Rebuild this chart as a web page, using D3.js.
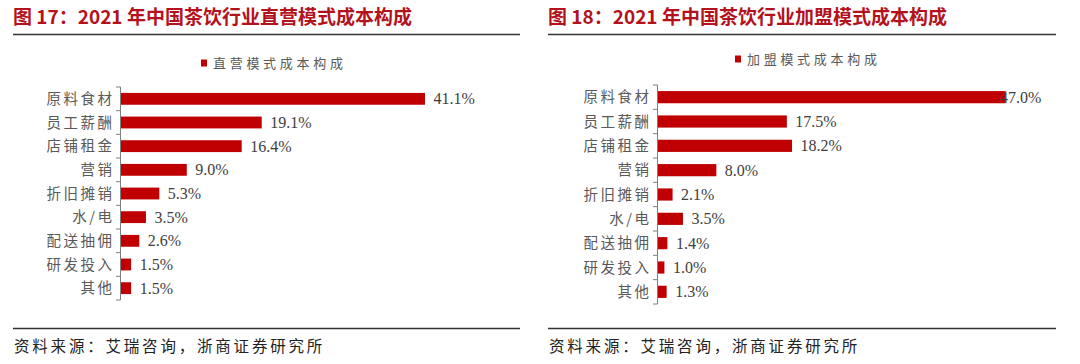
<!DOCTYPE html>
<html>
<head>
<meta charset="utf-8">
<script src="https://cdn.jsdelivr.net/npm/d3@7"></script>
<style>
  body { margin: 0; background: #fff; }
  svg { display: block; }
</style>
</head>
<body>
<svg id="chart" width="1080" height="364"></svg>
<script>
// data
var categories = ['原料食材', '员工薪酬', '店铺租金', '营销', '折旧摊销', '水/电', '配送抽佣', '研发投入', '其他'];
var directValues = [41.1, 19.1, 16.4, 9.0, 5.3, 3.5, 2.6, 1.5, 1.5];
var franchiseValues = [47.0, 17.5, 18.2, 8.0, 2.1, 3.5, 1.4, 1.0, 1.3];
var titles = ['图 17：2021 年中国茶饮行业直营模式成本构成', '图 18：2021 年中国茶饮行业加盟模式成本构成'];
var legendNames = ['直营模式成本构成', '加盟模式成本构成'];
var sourceText = '资料来源：艾瑞咨询，浙商证券研究所';

var barColor = '#C00000';
var titleColor = '#B3121D';
var cjk = '"Noto Sans CJK SC", sans-serif';
var serif = '"Liberation Serif", "Times New Roman", serif';

var svg = d3.select('#chart');

// panel layout (left: direct-operated, right: franchise)
var panels = [
  { x0: 13, ruleEnd: 520, axisX: 120, top: 87, bottom: 300, legendX: 201, legendY: 63, maxLabel: 400, values: directValues },
  { x0: 548, ruleEnd: 1056, axisX: 657, top: 85, bottom: 304, legendX: 735, legendY: 59, maxLabel: 343, values: franchiseValues }
];

panels.forEach(function (p, idx) {
  var g = svg.append('g');

  // title + rules
  g.append('text')
    .attr('x', p.x0)
    .attr('y', 24)
    .attr('font-family', '"Noto Sans CJK SC", Arial, sans-serif')
    .attr('font-weight', 'bold')
    .attr('font-size', 19)
    .attr('fill', titleColor)
    .text(titles[idx]);

  g.append('line')
    .attr('x1', p.x0).attr('x2', p.ruleEnd)
    .attr('y1', 34.5).attr('y2', 34.5)
    .attr('stroke', '#333').attr('stroke-width', 1.3);

  g.append('line')
    .attr('x1', p.x0).attr('x2', p.ruleEnd)
    .attr('y1', 328.5).attr('y2', 328.5)
    .attr('stroke', '#333').attr('stroke-width', 1.3);

  g.append('text')
    .attr('x', p.x0 + 1)
    .attr('y', 347)
    .attr('dy', '0.35em')
    .attr('font-family', cjk)
    .attr('font-size', 15.5)
    .attr('letter-spacing', 2.8)
    .attr('fill', '#222')
    .text(sourceText);

  // legend
  g.append('rect')
    .attr('x', p.legendX).attr('y', p.legendY - 3.5)
    .attr('width', 6).attr('height', 7)
    .attr('fill', barColor);

  g.append('text')
    .attr('x', p.legendX + 12)
    .attr('y', p.legendY)
    .attr('dy', '0.35em')
    .attr('font-family', cjk)
    .attr('font-size', 13)
    .attr('letter-spacing', 3.7)
    .attr('fill', '#595959')
    .text(legendNames[idx]);

  // scales
  var x = d3.scaleLinear().domain([0, 50]).range([0, 371]);
  var y = d3.scaleBand()
    .domain(categories)
    .range([p.top, p.bottom])
    .paddingInner(0.5)
    .paddingOuter(0.25);

  var step = y.step();
  var plot = g.append('g').attr('transform', 'translate(' + p.axisX + ',0)');

  // bars
  plot.selectAll('.bar')
    .data(p.values)
    .enter().append('rect')
    .attr('class', 'bar')
    .attr('x', 0)
    .attr('y', function (d, i) { return y(categories[i]); })
    .attr('width', function (d) { return x(d); })
    .attr('height', y.bandwidth())
    .attr('fill', barColor);

  // value labels (the 47.0% one runs into its bar in the original)
  plot.selectAll('.val')
    .data(p.values)
    .enter().append('text')
    .attr('class', 'val')
    .attr('x', function (d) { return Math.min(x(d) + 8.5, p.maxLabel); })
    .attr('y', function (d, i) { return y(categories[i]) + y.bandwidth() / 2; })
    .attr('dy', '0.35em')
    .attr('font-family', serif)
    .attr('font-size', 16)
    .attr('fill', '#404040')
    .text(function (d) { return d.toFixed(1) + '%'; });

  // axis line and ticks at band boundaries
  plot.append('line')
    .attr('x1', 0.5).attr('x2', 0.5)
    .attr('y1', p.top).attr('y2', p.bottom)
    .attr('stroke', '#7f7f7f').attr('stroke-width', 1);

  var bounds = d3.range(categories.length + 1).map(function (i) { return p.top + i * step; });
  plot.selectAll('.tick')
    .data(bounds)
    .enter().append('line')
    .attr('class', 'tick')
    .attr('x1', -4).attr('x2', 0.5)
    .attr('y1', function (d) { return d; })
    .attr('y2', function (d) { return d; })
    .attr('stroke', '#7f7f7f').attr('stroke-width', 1);

  // category labels
  plot.selectAll('.cat')
    .data(categories)
    .enter().append('text')
    .attr('class', 'cat')
    .attr('x', -5.5)
    .attr('y', function (d) { return y(d) + y.bandwidth() / 2; })
    .attr('dy', '0.35em')
    .attr('text-anchor', 'end')
    .attr('font-family', cjk)
    .attr('font-size', 14.5)
    .attr('letter-spacing', 2.5)
    .attr('fill', '#595959')
    .text(function (d) { return d; });
});
</script>
</body>
</html>
